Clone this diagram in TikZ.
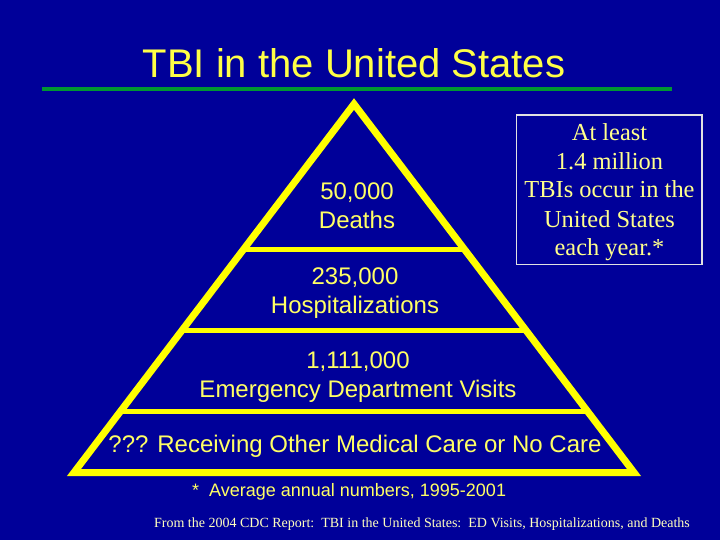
\documentclass[tikz,border=0pt]{standalone}
\usepackage{fontspec}
\setmainfont{Liberation Serif}
\setsansfont{Liberation Sans}
\usetikzlibrary{calc}
\definecolor{bgblue}{RGB}{0,0,153}
\definecolor{triyellow}{RGB}{255,255,0}
\definecolor{titleyellow}{RGB}{255,255,70}
\definecolor{txtyellow}{RGB}{255,255,100}
\definecolor{boxyellow}{RGB}{255,255,140}
\definecolor{noteyellow}{RGB}{255,255,190}
\definecolor{rulegreen}{RGB}{0,150,50}
\definecolor{boxgray}{RGB}{225,225,225}
\begin{document}
\begin{tikzpicture}[x=1pt,y=-1pt,
  titletext/.style={text=titleyellow, font=\sffamily\fontsize{40}{48}\selectfont, anchor=base, inner sep=0},
  pyrtext/.style={text=txtyellow, font=\sffamily\fontsize{24}{30}\selectfont, anchor=base, inner sep=0},
  boxtext/.style={text=boxyellow, font=\rmfamily\fontsize{24.4}{29}\selectfont, anchor=base, inner sep=0},
  notetext/.style={text=txtyellow, font=\sffamily\fontsize{18}{22}\selectfont, anchor=base west, inner sep=0},
  srctext/.style={text=noteyellow, font=\rmfamily\fontsize{14}{16}\selectfont, anchor=base, inner sep=0},
  pyredge/.style={draw=triyellow, line width=7pt, line join=miter},
  pyrdiv/.style={draw=triyellow, line width=5pt},
  boxborder/.style={draw=boxgray, line width=1.3pt}]
\fill[bgblue] (0,0) rectangle (720,540);
\useasboundingbox (0,0) rectangle (720,540);

% title and rule
\node[titletext] (title) at (354,78) {TBI in the United States};
\coordinate (ruleL) at (42,89.5);
\coordinate (ruleR) at (672,89.5);
\draw[rulegreen, line width=4pt] (ruleL) -- (ruleR);

% pyramid
\coordinate (apex) at (354,104);
\coordinate (bl) at (74,472.5);
\coordinate (br) at (634,472.5);
\draw[pyredge] (apex) -- (bl) -- (br) -- cycle;
\foreach \t/\n in {0.3954/a,0.6133/b,0.8358/c}{
  \coordinate (divL\n) at ($(apex)!\t!(bl)$);
  \coordinate (divR\n) at ($(apex)!\t!(br)$);
  \draw[pyrdiv] (divL\n) -- (divR\n);
}

% pyramid labels
\node[pyrtext] (d1) at (357,200) {50,000};
\node[pyrtext] (d2) at (357,229) {Deaths};
\node[pyrtext] (h1) at (355,284) {235,000};
\node[pyrtext] (h2) at (355,313) {Hospitalizations};
\node[pyrtext] (e1) at (358,368) {1,111,000};
\node[pyrtext] (e2) at (358,397) {Emergency Department Visits};
\node[pyrtext] (o1) at (355,452) {??? Receiving Other Medical Care or No Care};

% info box
\coordinate (boxTL) at (516.8,115);
\coordinate (boxBR) at (702,264.5);
\draw[boxborder] (boxTL) rectangle (boxBR);
\node[boxtext] (b1) at (609.5,141) {At least};
\node[boxtext] (b2) at (609.5,170) {1.4 million};
\node[boxtext] (b3) at (609.5,198) {TBIs occur in the};
\node[boxtext] (b4) at (609.5,227) {United States};
\node[boxtext] (b5) at (609.5,255) {each year.*};

% notes
\node[notetext] (note) at (192,496) {*\hspace{10pt}Average annual numbers, 1995-2001};
\node[srctext] (src) at (422,527) {From the 2004 CDC Report:\ \ TBI in the United States:\ \ ED Visits, Hospitalizations, and Deaths};
\end{tikzpicture}
\end{document}
